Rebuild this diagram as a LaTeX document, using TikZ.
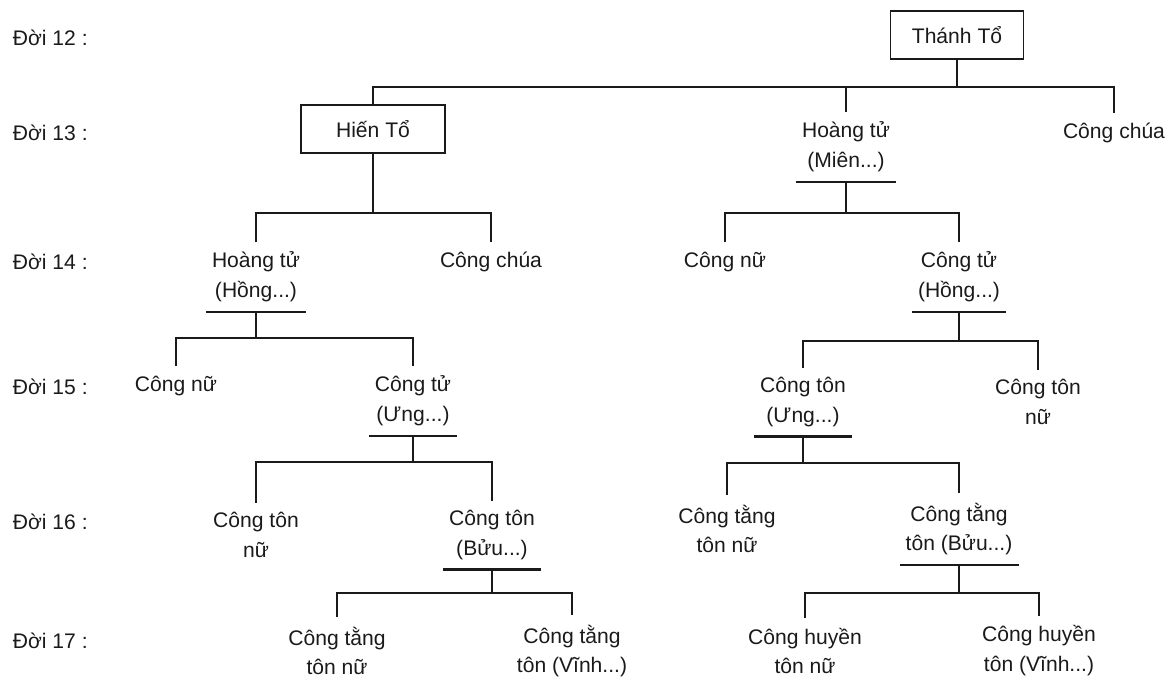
\documentclass[tikz,border=0pt]{standalone}
\usepackage{fontspec}
\setmainfont{Liberation Sans}
\definecolor{ink}{HTML}{1A1A1A}
\tikzset{
  every picture/.style={font=\fontsize{12}{17}\selectfont, line width=1pt, color=ink},
  gen/.style={anchor=west, inner sep=0pt},
  box/.style={draw, line width=0.9pt, minimum width=#1, minimum height=0.97cm},
  person/.style={align=center, inner xsep=3pt, inner ysep=5pt},
  uline/.style={line width=1.4pt},
}
\begin{document}
\begin{tikzpicture}[x=0.02cm, y=-0.02cm]
  \useasboundingbox (0,0) rectangle (1169,679);
  % generations
  \foreach \g/\y in {12/38, 13/133, 14/262, 15/387, 16/522, 17/641}
    \node[gen] (g\g) at (12,\y) {Đời \g{} :};

  % people
  \node[box=2.66cm] (thanh) at (957,35) {Thánh Tổ};
  \node[box=2.88cm] (hien) at (373,129) {Hiến Tổ};
  \node[person] (mien) at (846,147) {Hoàng tử\\(Miên...)};
  \node[person] (chua13) at (1114,133) {Công chúa};

  \node[person] (hongA) at (256,277) {Hoàng tử\\(Hồng...)};
  \node[person] (chua14) at (491,262) {Công chúa};
  \node[person] (nuA) at (725,262) {Công nữ};
  \node[person] (hongB) at (959,277) {Công tử\\(Hồng...)};

  \node[person] (nu15) at (176,386) {Công nữ};
  \node[person] (ungA) at (413,401) {Công tử\\(Ưng...)};
  \node[person] (ungB) at (803,402) {Công tôn\\(Ưng...)};
  \node[person] (tonnuB) at (1038,402) {Công tôn\\nữ};

  \node[person] (tonnuA) at (256,535) {Công tôn\\nữ};
  \node[person] (buuA) at (492,535) {Công tôn\\(Bửu...)};
  \node[person] (tangnuB) at (727,529) {Công tằng\\tôn nữ};
  \node[person] (buuB) at (959,529) {Công tằng\\tôn (Bửu...)};

  \node[person] (tangnuA) at (337,651) {Công tằng\\tôn nữ};
  \node[person] (vinhA) at (572,651) {Công tằng\\tôn (Vĩnh...)};
  \node[person] (huyennu) at (805,651) {Công huyền\\tôn nữ};
  \node[person] (vinhB) at (1039,651) {Công huyền\\tôn (Vĩnh...)};

  % underlines of the ones with children
  \foreach \p in {mien, hongA, hongB, ungA, ungB, buuA, buuB}
    \draw[uline] (\p.south west) -- (\p.south east);

  % top bar
  \coordinate (thanh-j) at (thanh.south |- 0,87);
  \draw (thanh.south) -- (thanh-j);
  \draw (hien.north) |- (thanh-j) -| (chua13.north);
  \draw (mien.north) -- (mien.north |- thanh-j);

  % parent -> two children
  \foreach \p/\a/\b/\y in {hien/hongA/chua14/213, mien/nuA/hongB/213,
      hongA/nu15/ungA/338, hongB/ungB/tonnuB/341,
      ungA/tonnuA/buuA/462, ungB/tangnuB/buuB/463,
      buuA/tangnuA/vinhA/593, buuB/huyennu/vinhB/593} {
    \coordinate (\p-j) at (\p.south |- 0,\y);
    \draw (\p.south) -- (\p-j);
    \draw (\a.north) |- (\p-j) -| (\b.north);
  }
\end{tikzpicture}
\end{document}
